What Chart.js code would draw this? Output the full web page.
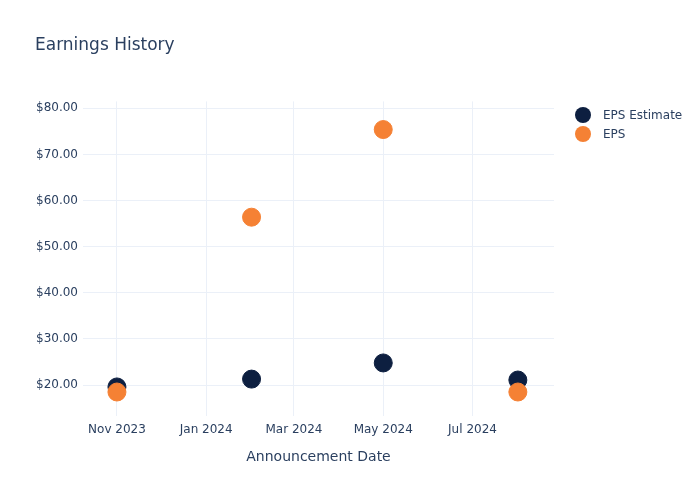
<!DOCTYPE html>
<html lang="en">
  <head>
    <meta charset="UTF-8" />
    <title>Earnings History</title>
    <style>
      html, body { margin: 0; padding: 0; background: #fff; }
      .box { position: relative; width: 700px; height: 500px; }
      #legend {
        position: absolute;
        left: 575px;
        top: 105px;
        font-family: "DejaVu Sans", sans-serif;
        font-size: 12px;
        color: #2a3f5f;
      }
      .item { display: flex; align-items: center; height: 19px; }
      .dot { width: 16px; height: 16px; border-radius: 50%; margin-right: 12px; }
    </style>
  </head>
  <body>
    <div class="box">
      <canvas id="myChart" width="700" height="500"></canvas>
      <div id="legend"></div>
    </div>

    <script src="https://cdn.jsdelivr.net/npm/chart.js"></script>

    <script>
      const announceDates = ["2023-11-01", "2024-02-01", "2024-05-01", "2024-08-01"];
      const epsEstimate = [19.6, 21.3, 24.8, 21.1];
      const epsActual = [18.5, 56.4, 75.4, 18.5];
      const xTickDates = ["2023-11-01", "2024-01-01", "2024-03-01", "2024-05-01", "2024-07-01"];
      const xTickLabels = ["Nov 2023", "Jan 2024", "Mar 2024", "May 2024", "Jul 2024"];
      const yTicks = [20, 30, 40, 50, 60, 70, 80];

      const DAY = 86400000;
      const t = (s) => Date.parse(s + "T00:00:00Z");
      const xTicks = xTickDates.map(t);

      const textColor = "#2a3f5f";
      const gridColor = "#ebf0f8";
      Chart.defaults.font.family = "'DejaVu Sans', sans-serif";
      Chart.defaults.color = textColor;

      const toPoints = (vals) => vals.map((v, i) => ({ x: t(announceDates[i]), y: v }));

      const chart = new Chart(document.getElementById("myChart"), {
        type: "scatter",
        data: {
          datasets: [
            {
              label: "EPS Estimate",
              data: toPoints(epsEstimate),
              backgroundColor: "#0d1f40",
              borderColor: "#0d1f40",
              pointRadius: 9,
              pointHoverRadius: 9,
              order: 1,
            },
            {
              label: "EPS",
              data: toPoints(epsActual),
              backgroundColor: "#f58134",
              borderColor: "#f58134",
              pointRadius: 9,
              pointHoverRadius: 9,
              order: 0,
            },
          ],
        },
        options: {
          responsive: false,
          animation: false,
          layout: { padding: { left: 35, right: 146, top: 0, bottom: 29 } },
          plugins: {
            title: {
              display: true,
              text: "Earnings History",
              align: "start",
              color: textColor,
              font: { size: 17, weight: "normal" },
              padding: { top: 35, bottom: 46 },
            },
            legend: { display: false },
            tooltip: { enabled: false },
          },
          scales: {
            x: {
              type: "linear",
              min: t(announceDates[0]) - 23.2 * DAY,
              max: t(announceDates[0]) + 298.7 * DAY,
              afterBuildTicks: (axis) => {
                axis.ticks = xTicks.map((v) => ({ value: v }));
              },
              afterFit: (axis) => {
                axis.height = 55;
              },
              ticks: {
                color: textColor,
                font: { size: 12 },
                maxRotation: 0,
                padding: 7,
                callback: (v) => xTickLabels[xTicks.indexOf(v)],
              },
              grid: { color: gridColor, drawTicks: false },
              border: { display: false },
              title: {
                display: true,
                text: "Announcement Date",
                color: textColor,
                font: { size: 14 },
                padding: { top: 0, bottom: 5 },
              },
            },
            y: {
              min: 13.3,
              max: 81.5,
              afterBuildTicks: (axis) => {
                axis.ticks = yTicks.map((v) => ({ value: v }));
              },
              afterFit: (axis) => {
                axis.width = 48;
              },
              ticks: {
                color: textColor,
                font: { size: 12 },
                padding: 5,
                callback: (v) => "$" + v.toFixed(2),
              },
              grid: { color: gridColor, drawTicks: false },
              border: { display: false },
            },
          },
        },
      });

      // html legend from the chart's own datasets
      const legendBox = document.getElementById("legend");
      chart.data.datasets.forEach((ds) => {
        const item = document.createElement("div");
        item.className = "item";
        const dot = document.createElement("span");
        dot.className = "dot";
        dot.style.background = ds.backgroundColor;
        const label = document.createElement("span");
        label.textContent = ds.label;
        item.appendChild(dot);
        item.appendChild(label);
        legendBox.appendChild(item);
      });
    </script>
  </body>
</html>
